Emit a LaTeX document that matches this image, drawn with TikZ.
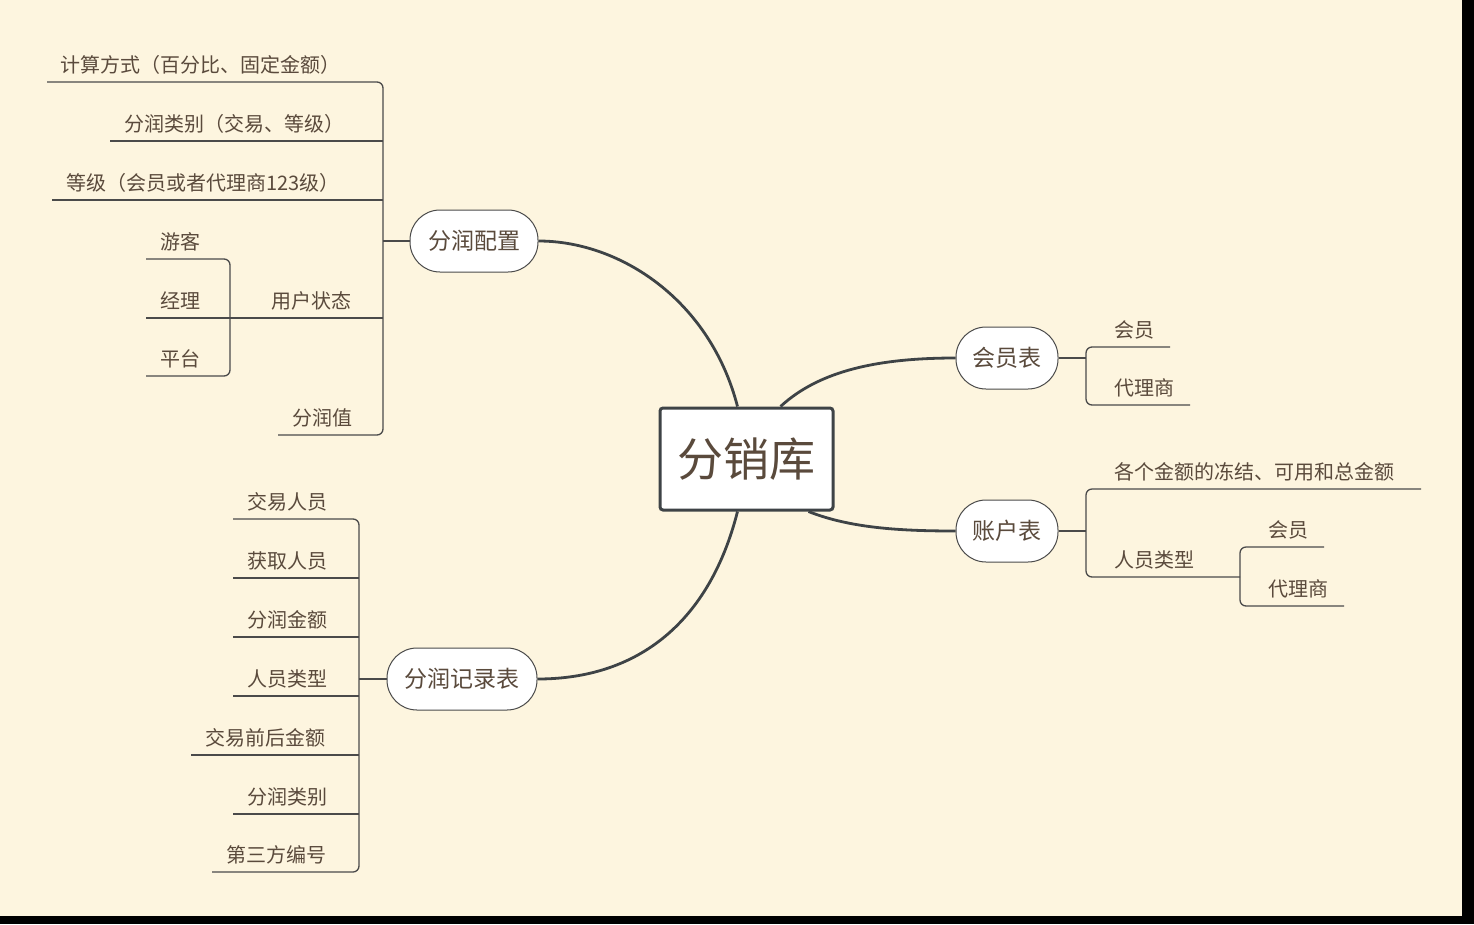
\documentclass[tikz,border=0pt]{standalone}
\usepackage{fontspec}
\setmainfont{Noto Sans CJK SC}
\begin{document}
\begin{tikzpicture}[x=1pt,y=-1pt,
  leaf/.style={anchor=base west,inner sep=0pt,font=\fontsize{20}{22}\selectfont,text=txt},
  ln/.style={draw=lnc,line width=1.3pt,rounded corners=6pt},
  br/.style={draw=lnc,line width=1pt,fill=white,rounded corners=30pt,minimum height=62pt,font=\fontsize{23}{26}\selectfont,text=txt},
  curve/.style={draw=cvc,line width=2.8pt}]
\definecolor{bg}{HTML}{FDF5DF}
\definecolor{txt}{HTML}{5A4A3C}
\definecolor{lnc}{HTML}{4A4A4A}
\definecolor{cvc}{HTML}{3E4346}
\useasboundingbox (0,0) rectangle (1474,924);
\fill[black] (0,0) rectangle (1474,924);
\fill[bg] (0,0) rectangle (1462,916);
% centre
\node[draw=cvc,line width=3pt,fill=white,rounded corners=3pt,minimum width=173pt,minimum height=102pt,font=\fontsize{46}{50}\selectfont,text=txt] (c) at (746.5,459) {分销库};
\node[br,minimum width=128pt] (a) at (474,241) {分润配置};
\node[br,minimum width=102pt] (m) at (1007,358) {会员表};
\node[br,minimum width=102pt] (z) at (1007,531) {账户表};
\node[br,minimum width=150pt] (r) at (462,679) {分润记录表};
\draw[curve] ([xshift=-9pt]c.north) .. controls (710,300) and (620,241) .. (a.east);
\draw[curve] ([xshift=34pt]c.north) .. controls (820,370) and (880,358) .. (m.west);
\draw[curve] ([xshift=62pt]c.south) .. controls (850,528) and (900,531) .. (z.west);
\draw[curve] ([xshift=-9pt]c.south) .. controls (710,620) and (640,679) .. (r.east);
% 分润配置 leaves
\coordinate (aj) at (383,241);
\draw[ln] (a.west) -- (aj);
\draw[ln] (47,82) -- (383,82) -- (383,435) -- (278,435);
\draw[ln] (110,141) -- (383,141);
\draw[ln] (52,200) -- (383,200);
\draw[ln] (146,259) -- (230,259) -- (230,376) -- (146,376);
\draw[ln] (146,318) -- (383,318);
\node[leaf] (a1) at (60,72) {计算方式（百分比、固定金额）};
\node[leaf] (a2) at (124,131) {分润类别（交易、等级）};
\node[leaf] (a3) at (66,190) {等级（会员或者代理商123级）};
\node[leaf] (a4) at (271,308) {用户状态};
\node[leaf] (a5) at (292,425) {分润值};
\node[leaf] (a41) at (160,249) {游客};
\node[leaf] (a42) at (160,308) {经理};
\node[leaf] (a43) at (160,366) {平台};
% 分润记录表 leaves
\draw[ln] (r.west) -- (359,679);
\draw[ln] (233,519) -- (359,519) -- (359,872) -- (212,872);
\draw[ln] (233,578) -- (359,578);
\draw[ln] (233,637) -- (359,637);
\draw[ln] (233,696) -- (359,696);
\draw[ln] (191,755) -- (359,755);
\draw[ln] (233,814) -- (359,814);
\node[leaf] (r1) at (247,509) {交易人员};
\node[leaf] (r2) at (247,568) {获取人员};
\node[leaf] (r3) at (247,627) {分润金额};
\node[leaf] (r4) at (247,686) {人员类型};
\node[leaf] (r5) at (205,745) {交易前后金额};
\node[leaf] (r6) at (247,804) {分润类别};
\node[leaf] (r7) at (226,862) {第三方编号};
% 会员表
\draw[ln] (m.east) -- (1086,358);
\draw[ln] (1170,347) -- (1086,347) -- (1086,405) -- (1190,405);
\node[leaf] (m1) at (1114,337) {会员};
\node[leaf] (m2) at (1114,395) {代理商};
% 账户表
\draw[ln] (z.east) -- (1086,531);
\draw[ln] (1421,489) -- (1086,489) -- (1086,577) -- (1240,577);
\draw[ln] (1324,547) -- (1240,547) -- (1240,606) -- (1344,606);
\node[leaf] (z1) at (1114,479) {各个金额的冻结、可用和总金额};
\node[leaf] (z2) at (1114,567) {人员类型};
\node[leaf] (z21) at (1268,537) {会员};
\node[leaf] (z22) at (1268,596) {代理商};
\end{tikzpicture}
\end{document}
